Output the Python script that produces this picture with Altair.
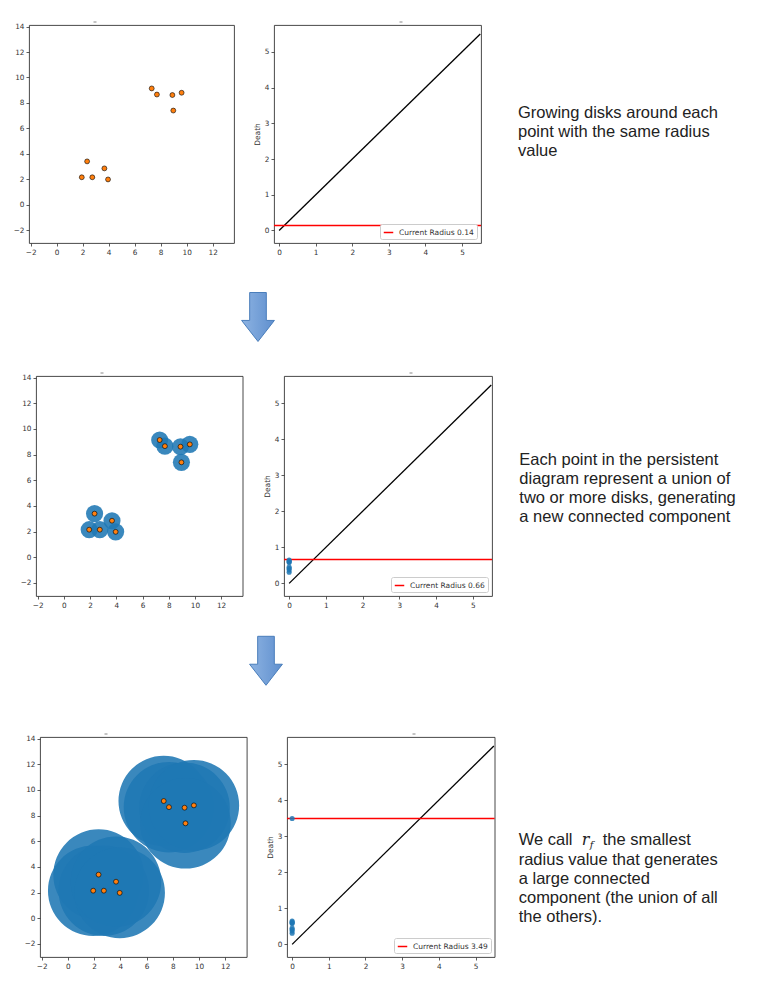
import math
import altair as alt
import pandas as pd

# ---------------- data ----------------
pts_x = [1.93, 2.34, 2.74, 3.67, 3.95, 7.31, 7.71, 8.90, 9.61, 8.97]
pts_y = [2.15, 3.40, 2.15, 2.85, 1.98, 9.14, 8.66, 8.62, 8.80, 7.40]
deaths = [0.31, 0.37, 0.41, 0.45, 0.58, 0.60, 0.62, 0.65, 3.49]
radii = [0.14, 0.66, 3.49]
diag = [0.0, 5.5]
scatter_xticks = [-2, 0, 2, 4, 6, 8, 10, 12]
scatter_yticks = [-2, 0, 2, 4, 6, 8, 10, 12, 14]
pd_ticks = [0, 1, 2, 3, 4, 5]
captions = [
    "Growing disks around each\npoint with the same radius\nvalue",
    "Each point in the persistent\ndiagram represent a union of\ntwo or more disks, generating\na new connected component",
    "radius value that generates\na large connected\ncomponent (the union of all\nthe others).",
]
cap3_first = ["We call", "r", "f", "the smallest"]

# ---------------- layout / style ----------------
SC_XDOM = [-2.13, 13.64]
SC_YDOM = [-3.02, 14.13]
PD_XDOM = [-0.14, 5.52]
PD_YDOM = [-0.35, 5.75]
rows_geo = [
    # left spacer, scatter W, H, gap, pd W, text x, text y
    dict(sp=20, sw=205, h=218, gap=40, pw=207, tx=37, ty=92.7),
    dict(sp=26.7, sw=206.6, h=220, gap=40.4, pw=208, tx=27.3, ty=89.3),
    dict(sp=31, sw=206.7, h=220, gap=40, pw=207.6, tx=23.7, ty=108),
]
TXT_COLOR = "#222222"
FRAME = "#333333"

axis_base = dict(grid=False, domain=False, tickSize=3, tickWidth=0.8, tickColor=FRAME,
                 labelFontSize=7.3, labelFont="DejaVu Sans", labelColor=FRAME, labelPadding=2,
                 titleFontSize=7.5, titleFont="DejaVu Sans", titleFontWeight="normal",
                 titleColor=FRAME)

one = pd.DataFrame({"v": [0]})
hidden_view = alt.ViewBackground(strokeOpacity=0)


def spacer(w, h):
    return alt.Chart(one).mark_point(opacity=0, size=1).encode(
        x=alt.value(w / 2), y=alt.value(h / 2)).properties(width=w, height=h, view=hidden_view)


def dash(cx):
    return alt.Chart(one).mark_rule(color="#888888", strokeWidth=1).encode(
        x=alt.value(cx - 1.5), x2=alt.value(cx + 1.5), y=alt.value(-3))


def scatter(r, W, H):
    ppu = (W / (SC_XDOM[1] - SC_XDOM[0]) + H / (SC_YDOM[1] - SC_YDOM[0])) / 2
    df = pd.DataFrame({"x": pts_x, "y": pts_y})
    # Vega circle symbols have radius sqrt(size)/2
    df["disk"] = (2 * r * ppu) ** 2
    X = alt.X("x:Q", scale=alt.Scale(domain=SC_XDOM, nice=False, zero=False),
              axis=alt.Axis(values=scatter_xticks, title=None, **axis_base))
    Y = alt.Y("y:Q", scale=alt.Scale(domain=SC_YDOM, nice=False, zero=False),
              axis=alt.Axis(values=scatter_yticks, title=None, **axis_base))
    disks = alt.Chart(df).mark_circle(color="#1f77b4", opacity=0.88, clip=True).encode(
        x=X, y=Y, size=alt.Size("disk:Q", scale=None, legend=None))
    dots = alt.Chart(df).mark_circle(color="#ff7f0e", opacity=1, size=24,
                                     stroke="black", strokeWidth=0.6).encode(x=X, y=Y)
    return alt.layer(disks, dots, dash(66)).properties(width=W, height=H)


def pdiag(r, W, H):
    X = alt.X("x:Q", scale=alt.Scale(domain=PD_XDOM, nice=False, zero=False),
              axis=alt.Axis(values=pd_ticks, title=None, format="d", **axis_base))
    Y = alt.Y("y:Q", scale=alt.Scale(domain=PD_YDOM, nice=False, zero=False),
              axis=alt.Axis(values=pd_ticks, title="Death", format="d", titlePadding=3, **axis_base))
    line = alt.Chart(pd.DataFrame({"x": diag, "y": diag})).mark_line(
        color="black", strokeWidth=1.3, clip=True).encode(x=X, y=Y)
    lab = f"Current Radius {r:.2f}"
    rule = alt.Chart(pd.DataFrame({"y": [r], "lab": [lab]})).mark_rule(strokeWidth=1.4).encode(
        y=Y,
        color=alt.Color("lab:N", scale=alt.Scale(domain=[lab], range=["red"]),
                        legend=alt.Legend(title=None, orient="bottom-right", offset=4, padding=3,
                                          fillColor="white", strokeColor="#cccccc", cornerRadius=2,
                                          symbolType="stroke", symbolStrokeWidth=1.5, symbolSize=90,
                                          labelFontSize=7.5, labelFont="DejaVu Sans",
                                          labelColor=FRAME, labelOffset=5)))
    born = [d for d in deaths if d <= r + 0.005]
    pts = alt.Chart(pd.DataFrame({"x": [0.0] * len(born), "y": born})).mark_circle(
        color="#1f77b4", size=26, opacity=0.85).encode(x=X, y=Y)
    return alt.layer(line, rule, pts, dash(127)).properties(width=W, height=H)


def caption(i, tx, ty, H):
    base = alt.Chart(one).mark_text(align="left", baseline="alphabetic", font="Liberation Sans",
                                    fontSize=16.5, lineHeight=19, color=TXT_COLOR, lineBreak="\n")
    if i < 2:
        c = base.encode(x=alt.value(tx), y=alt.value(ty), text=alt.value(captions[i]))
        return c.properties(width=230, height=H, view=hidden_view)
    parts = [
        base.encode(x=alt.value(tx), y=alt.value(ty), text=alt.value(cap3_first[0])),
        alt.Chart(one).mark_text(align="left", baseline="alphabetic", font="DejaVu Serif",
                                 fontStyle="italic", fontSize=16, color=TXT_COLOR).encode(
            x=alt.value(tx + 63), y=alt.value(ty), text=alt.value(cap3_first[1])),
        alt.Chart(one).mark_text(align="left", baseline="alphabetic", font="DejaVu Serif",
                                 fontStyle="italic", fontSize=10, color=TXT_COLOR).encode(
            x=alt.value(tx + 71), y=alt.value(ty + 3), text=alt.value(cap3_first[2])),
        base.encode(x=alt.value(tx + 84), y=alt.value(ty), text=alt.value(cap3_first[3])),
        base.encode(x=alt.value(tx), y=alt.value(ty + 19.5), text=alt.value(captions[2])),
    ]
    return alt.layer(*parts).properties(width=230, height=H, view=hidden_view)


gradient = alt.LinearGradient(gradient="linear", x1=0, x2=1, y1=0, y2=0,
                              stops=[alt.GradientStop(color="#8db3e2", offset=0),
                                     alt.GradientStop(color="#5f8fce", offset=1)])
ARROW = "M -0.34 -1 L 0.34 -1 L 0.34 0.14 L 0.67 0.14 L 0 1 L -0.67 0.14 L -0.34 0.14 Z"


def arrow(cx, cy, H):
    a = alt.Chart(one).mark_point(shape=ARROW, filled=True, fill=gradient, stroke="#4a7ebb",
                                  strokeWidth=1, size=2400, opacity=1).encode(
        x=alt.value(cx), y=alt.value(cy))
    return a.properties(width=480, height=H, view=hidden_view)


rows = []
for i, (r, g) in enumerate(zip(radii, rows_geo)):
    row = alt.hconcat(
        spacer(g["sp"], g["h"]),
        scatter(r, g["sw"], g["h"]),
        spacer(g["gap"], g["h"]),
        pdiag(r, g["pw"], g["h"]),
        caption(i, g["tx"], g["ty"], g["h"]),
        spacing=0, bounds="flush",
    ).resolve_scale(color="independent").resolve_legend(color="independent")
    rows.append(row)

chart = alt.vconcat(
    rows[0],
    arrow(249, 61, 115.2),
    rows[1],
    arrow(257, 51.8, 123.8),
    rows[2],
    spacing=0,
).resolve_scale(color="independent").resolve_legend(color="independent").properties(
    padding={"left": 1, "top": 13, "right": 5, "bottom": 5}
).configure_view(stroke=FRAME, strokeWidth=0.9)

chart.save("out.html", embed_options={"renderer": "svg", "actions": False})
